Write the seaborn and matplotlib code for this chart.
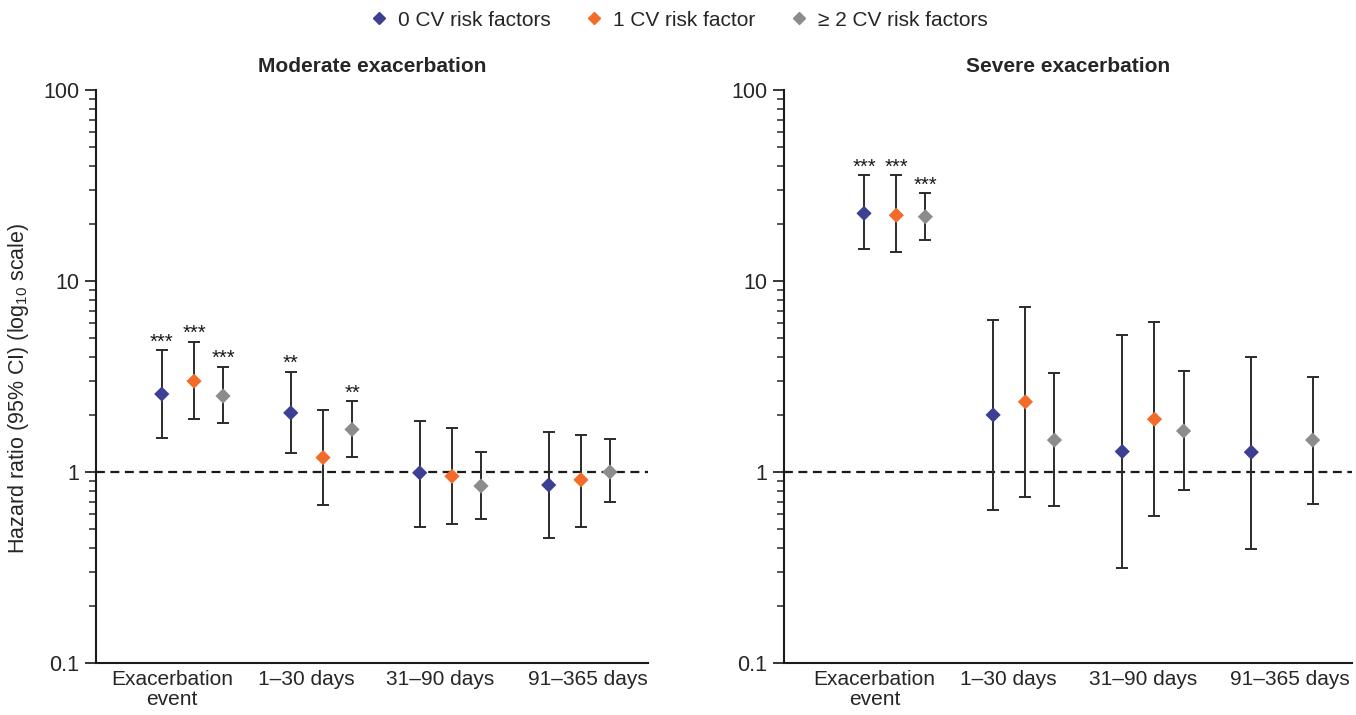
import numpy as np
import pandas as pd
import matplotlib
matplotlib.use("Agg")
import matplotlib.pyplot as plt
import matplotlib.ticker as mticker
from matplotlib.lines import Line2D
import seaborn as sns

# ---- data ----
periods = ["Exacerbation\nevent", "1\u201330 days", "31\u201390 days", "91\u2013365 days"]
groups = ["0 CV risk factors", "1 CV risk factor", "\u2265 2 CV risk factors"]

# Moderate exacerbation (rows: groups, cols: periods)
mod_hr = [[2.56, 2.04, 0.99, 0.855],
          [2.99, 1.19, 0.95, 0.91],
          [2.50, 1.67, 0.845, 1.00]]
mod_lo = [[1.51, 1.26, 0.515, 0.45],
          [1.89, 0.67, 0.537, 0.515],
          [1.81, 1.20, 0.567, 0.70]]
mod_hi = [[4.35, 3.35, 1.86, 1.61],
          [4.80, 2.10, 1.70, 1.57],
          [3.55, 2.34, 1.28, 1.49]]
mod_sig = [["***", "**", "", ""],
           ["***", "", "", ""],
           ["***", "**", "", ""]]

# Severe exacerbation
sev_hr = [[22.6, 1.99, 1.28, 1.27],
          [22.1, 2.33, 1.89, np.nan],
          [21.7, 1.47, 1.64, 1.47]]
sev_lo = [[14.7, 0.63, 0.315, 0.395],
          [14.2, 0.74, 0.59, np.nan],
          [16.3, 0.66, 0.805, 0.68]]
sev_hi = [[35.9, 6.27, 5.21, 4.00],
          [35.9, 7.33, 6.10, np.nan],
          [28.9, 3.31, 3.37, 3.15]]
sev_sig = [["***", "", "", ""],
           ["***", "", "", ""],
           ["***", "", "", ""]]

colors = ["#3d3f92", "#f26b2b", "#8c8c8c"]
offsets = [-0.25, 0.0, 0.225]
label_shift = [-0.17, -0.13, -0.09, 0.05]

def build(hr, lo, hi, sig):
    rows = []
    for g in range(3):
        for p in range(4):
            rows.append(dict(group=groups[g], period=p, x=p + offsets[g],
                             hr=hr[g][p], lo=lo[g][p], hi=hi[g][p], sig=sig[g][p]))
    return pd.DataFrame(rows).dropna(subset=["hr"])

sns.set_style("ticks")
plt.rcParams["font.family"] = ["Liberation Sans", "DejaVu Sans"]
plt.rcParams["mathtext.default"] = "regular"

fig = plt.figure(figsize=(13.56, 7.15), dpi=100)
ax1 = fig.add_axes([96/1356, 1-663/715, 552/1356, 573/715])
ax2 = fig.add_axes([784/1356, 1-663/715, 568/1356, 573/715])

panels = [(ax1, build(mod_hr, mod_lo, mod_hi, mod_sig), "Moderate exacerbation", (-0.76, 3.52)),
          (ax2, build(sev_hr, sev_lo, sev_hi, sev_sig), "Severe exacerbation", (-0.87, 3.53))]

for ax, df, title, xl in panels:
    ax.set_yscale("log")
    ax.set_ylim(0.1, 100)
    ax.set_xlim(*xl)
    ax.axhline(1, color="#1a1a1a", lw=1.6, ls=(0, (4, 2.5)), zorder=1)
    ax.errorbar(df["x"], df["hr"], yerr=[df["hr"] - df["lo"], df["hi"] - df["hr"]],
                fmt="none", ecolor="#2b2b2b", elinewidth=1.4, capsize=4, capthick=1.4, zorder=2)
    sns.scatterplot(data=df, x="x", y="hr", hue="group", hue_order=groups,
                    palette=colors, marker="D", s=60, edgecolor="none",
                    legend=False, ax=ax, zorder=3)
    for _, r in df.iterrows():
        if r["sig"]:
            ax.annotate(r["sig"], (r["x"], r["hi"]), xytext=(0, -1), textcoords="offset points",
                        ha="center", va="bottom", fontsize=14.5, color="#1a1a1a")
    ax.set_title(title, fontsize=15, fontweight="bold", pad=13)
    ax.set_xticks([i + s for i, s in enumerate(label_shift)])
    ax.set_xticklabels(periods, fontsize=15, linespacing=1.05)
    ax.tick_params(axis="x", length=0, pad=5)
    ax.yaxis.set_major_locator(mticker.LogLocator(base=10, numticks=10))
    ax.yaxis.set_minor_locator(mticker.LogLocator(base=10, subs=np.arange(2, 10), numticks=10))
    ax.yaxis.set_minor_formatter(mticker.NullFormatter())
    ax.yaxis.set_major_formatter(mticker.FuncFormatter(lambda v, p: f"{v:g}"))
    ax.tick_params(axis="y", which="major", length=8, width=1.3, labelsize=15.5, pad=4)
    ax.tick_params(axis="y", which="minor", length=5, width=1.1)
    for s in ["top", "right"]:
        ax.spines[s].set_visible(False)
    for s in ["left", "bottom"]:
        ax.spines[s].set_linewidth(1.5)
        ax.spines[s].set_color("#1a1a1a")
    ax.set_xlabel("")
    ax.set_ylabel("")

ax1.set_ylabel("Hazard ratio (95% CI) (log$_{10}$ scale)", fontsize=15.5)
ax1.yaxis.set_label_coords(-0.118, 0.48)

handles = [Line2D([], [], marker="D", ls="none", color=c, markersize=6) for c in colors]
fig.legend(handles, groups, loc="center", bbox_to_anchor=(0.5, 1-20/715), ncol=3,
           frameon=False, fontsize=15, handletextpad=0.4, columnspacing=1.6, handlelength=1.0)

fig.savefig("out.png", dpi=100)
